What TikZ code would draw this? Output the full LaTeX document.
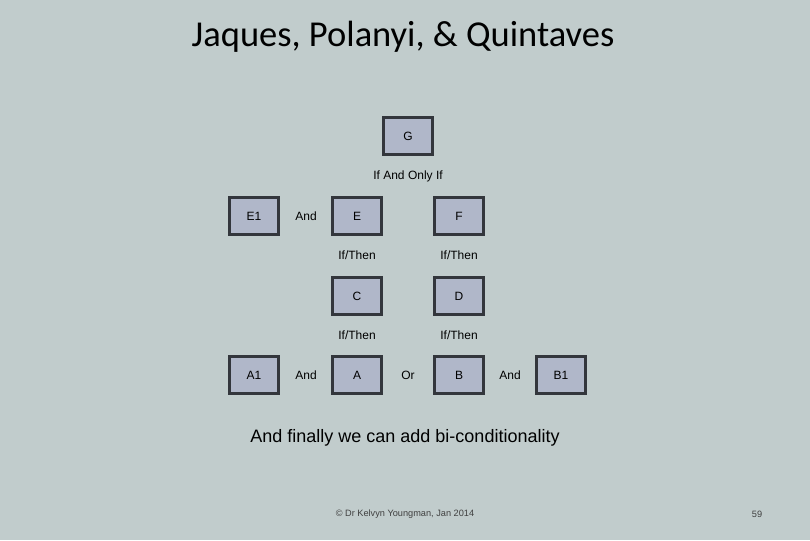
\documentclass[tikz,border=0pt]{standalone}
\usepackage{fontspec}
\setmainfont{Liberation Sans}
\newfontfamily\titlefont{Carlito}
\definecolor{bg}{HTML}{C1CCCC}
\definecolor{boxfill}{HTML}{B0B7C9}
\definecolor{boxline}{HTML}{33363C}
\begin{document}
\begin{tikzpicture}[x=1pt,y=-1pt,
  bx/.style={draw=boxline,line width=3pt,fill=boxfill,minimum width=49pt,minimum height=37pt,inner sep=0pt,font=\fontsize{12}{14}\selectfont},
  lb/.style={font=\fontsize{12}{14}\selectfont,inner sep=0pt}]
\fill[bg] (0,0) rectangle (810,540);
\useasboundingbox (0,0) rectangle (810,540);
\node[font=\titlefont\fontsize{36.5}{40}\selectfont] (title) at (403,37) {Jaques, Polanyi, \& Quintaves};
\node[bx] (G) at (408,136) {G};
\node[bx] (E1) at (254,216) {E1};
\node[bx] (E) at (357,216) {E};
\node[bx] (F) at (459,216) {F};
\node[bx] (C) at (357,296) {C};
\node[bx] (D) at (459,296) {D};
\node[bx] (A1) at (254,375) {A1};
\node[bx] (A) at (357,375) {A};
\node[bx] (B) at (459,375) {B};
\node[bx] (B1) at (561,375) {B1};
\node[lb] (l1) at (408,176) {If And Only If};
\node[lb] (l2) at (306,216) {And};
\node[lb] (l3) at (357,255) {If/Then};
\node[lb] (l4) at (459,255) {If/Then};
\node[lb] (l5) at (357,335) {If/Then};
\node[lb] (l6) at (459,335) {If/Then};
\node[lb] (l7) at (306,375) {And};
\node[lb] (l8) at (408,375) {Or};
\node[lb] (l9) at (510,375) {And};
\node[font=\fontsize{18}{21}\selectfont] (sub) at (405,438) {And finally we can add bi-conditionality};
\node[font=\fontsize{9.2}{11}\selectfont,text=black!75] (foot) at (405,514) {© Dr Kelvyn Youngman, Jan 2014};
\node[font=\fontsize{9.2}{11}\selectfont,text=black!75] (pg) at (757,514) {59};
\end{tikzpicture}
\end{document}
